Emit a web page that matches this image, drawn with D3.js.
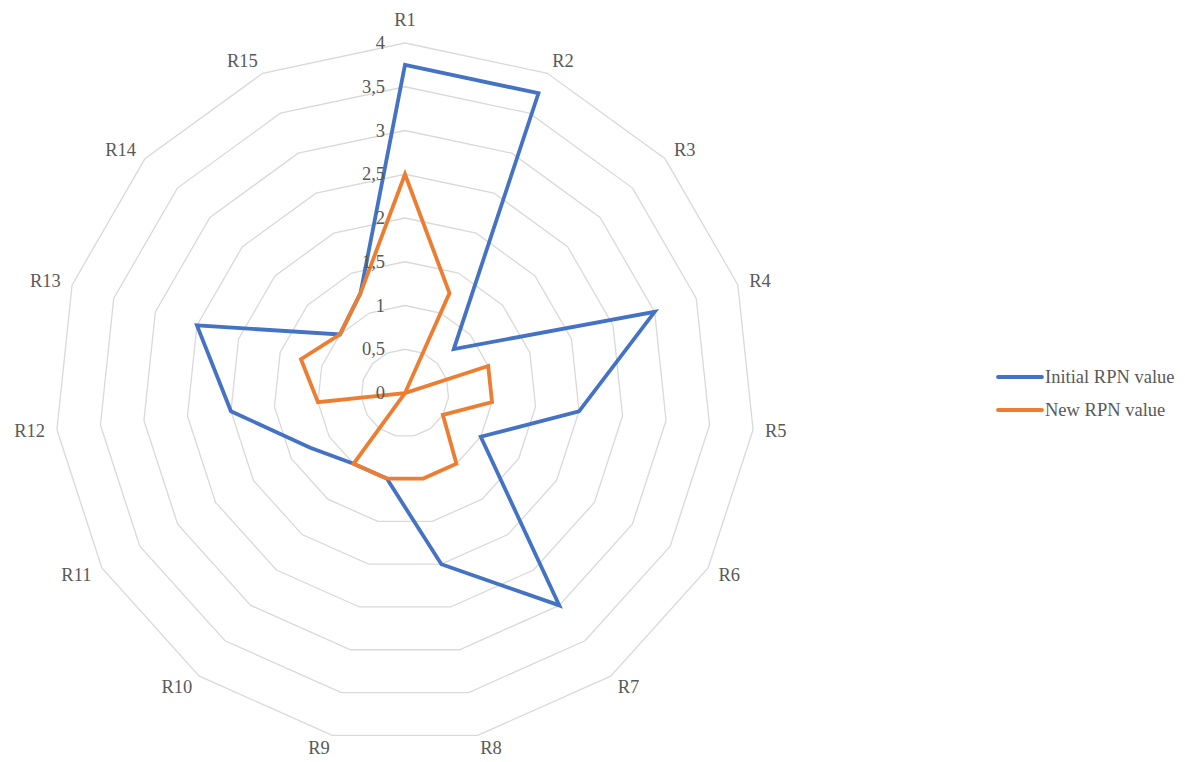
<!DOCTYPE html>
<html><head><meta charset="utf-8">
<script src="https://cdn.jsdelivr.net/npm/d3@7"></script>
<style>
body{margin:0;background:#fff;}
svg{display:block;}
text{font-family:"Liberation Serif","Times New Roman",serif;fill:#595959;}
</style>
</head><body>
<svg id="chart" width="1185" height="762"></svg>
<script>
const categories = ["R1","R2","R3","R4","R5","R6","R7","R8","R9","R10","R11","R12","R13","R14","R15"];
const initialRPN = [3.75,3.75,0.75,3,2,1,3,2,1,1,1.25,2,2.5,1,1.25];
const newRPN = [2.5,1.25,0,1,1,0.5,1,1,1,1,0,1,1.25,1,1.25];
const tickValues = [0,0.5,1,1.5,2,2.5,3,3.5,4];
const tickLabels = ["0","0,5","1","1,5","2","2,5","3","3,5","4"];
const seriesNames = ["Initial RPN value","New RPN value"];
const seriesColors = ["#4472C4","#ED7D31"];

const svg = d3.select("#chart");
const cx = 405, cy = 393, R = 350;
const fs = 18.5;
const rScale = d3.scaleLinear().domain([0,4]).range([0,R]);
const aScale = d3.scaleLinear().domain([0,categories.length]).range([0,2*Math.PI]);

const g = svg.append("g").attr("transform",`translate(${cx},${cy})`);

// grid rings
const ringLine = d3.lineRadial()
  .angle((d,i)=>aScale(i))
  .radius(d=>rScale(d))
  .curve(d3.curveLinearClosed);
g.append("g").selectAll("path")
  .data(tickValues.filter(v=>v>0))
  .join("path")
  .attr("d", v => ringLine(categories.map(()=>v)))
  .attr("fill","none")
  .attr("stroke","#D9D9D9")
  .attr("stroke-width",1.3);

// series
const seriesLine = d3.lineRadial()
  .angle((d,i)=>aScale(i))
  .radius(d=>rScale(d))
  .curve(d3.curveLinearClosed);
[initialRPN,newRPN].forEach((vals,si)=>{
  g.append("path")
    .attr("d", seriesLine(vals))
    .attr("fill","none")
    .attr("stroke",seriesColors[si])
    .attr("stroke-width",3.8)
    .attr("stroke-linejoin","miter");
});

// tick labels
g.append("g").selectAll("text")
  .data(tickValues)
  .join("text")
  .attr("x",-20)
  .attr("y",v=>-rScale(v))
  .attr("text-anchor","end")
  .attr("dominant-baseline","central")
  .attr("font-size",fs)
  .text((v,i)=>tickLabels[i]);

// category labels
g.append("g").selectAll("text")
  .data(categories)
  .join("text")
  .each(function(c,i){
    const a = aScale(i);
    const s = Math.sin(a), co = Math.cos(a);
    const vx = rScale(4)*s, vy = -rScale(4)*co;
    let anchor = "middle";
    if (s > 0.05) anchor = "start";
    else if (s < -0.05) anchor = "end";
    const x = vx + s*12;
    let y = vy - co*13;
    if (co > 0.99) y -= 10;
    d3.select(this)
      .attr("x",x).attr("y",y)
      .attr("text-anchor",anchor)
      .attr("dominant-baseline","central")
      .attr("font-size",fs)
      .text(c);
  });

// legend
const legend = svg.append("g");
const legY = [377,410];
seriesNames.forEach((n,i)=>{
  legend.append("line")
    .attr("x1",998).attr("x2",1042)
    .attr("y1",legY[i]).attr("y2",legY[i])
    .attr("stroke",seriesColors[i])
    .attr("stroke-width",3.8)
    .attr("stroke-linecap","round");
  legend.append("text")
    .attr("x",1045).attr("y",legY[i])
    .attr("dominant-baseline","central")
    .attr("font-size",fs)
    .text(n);
});
</script>
</body></html>
